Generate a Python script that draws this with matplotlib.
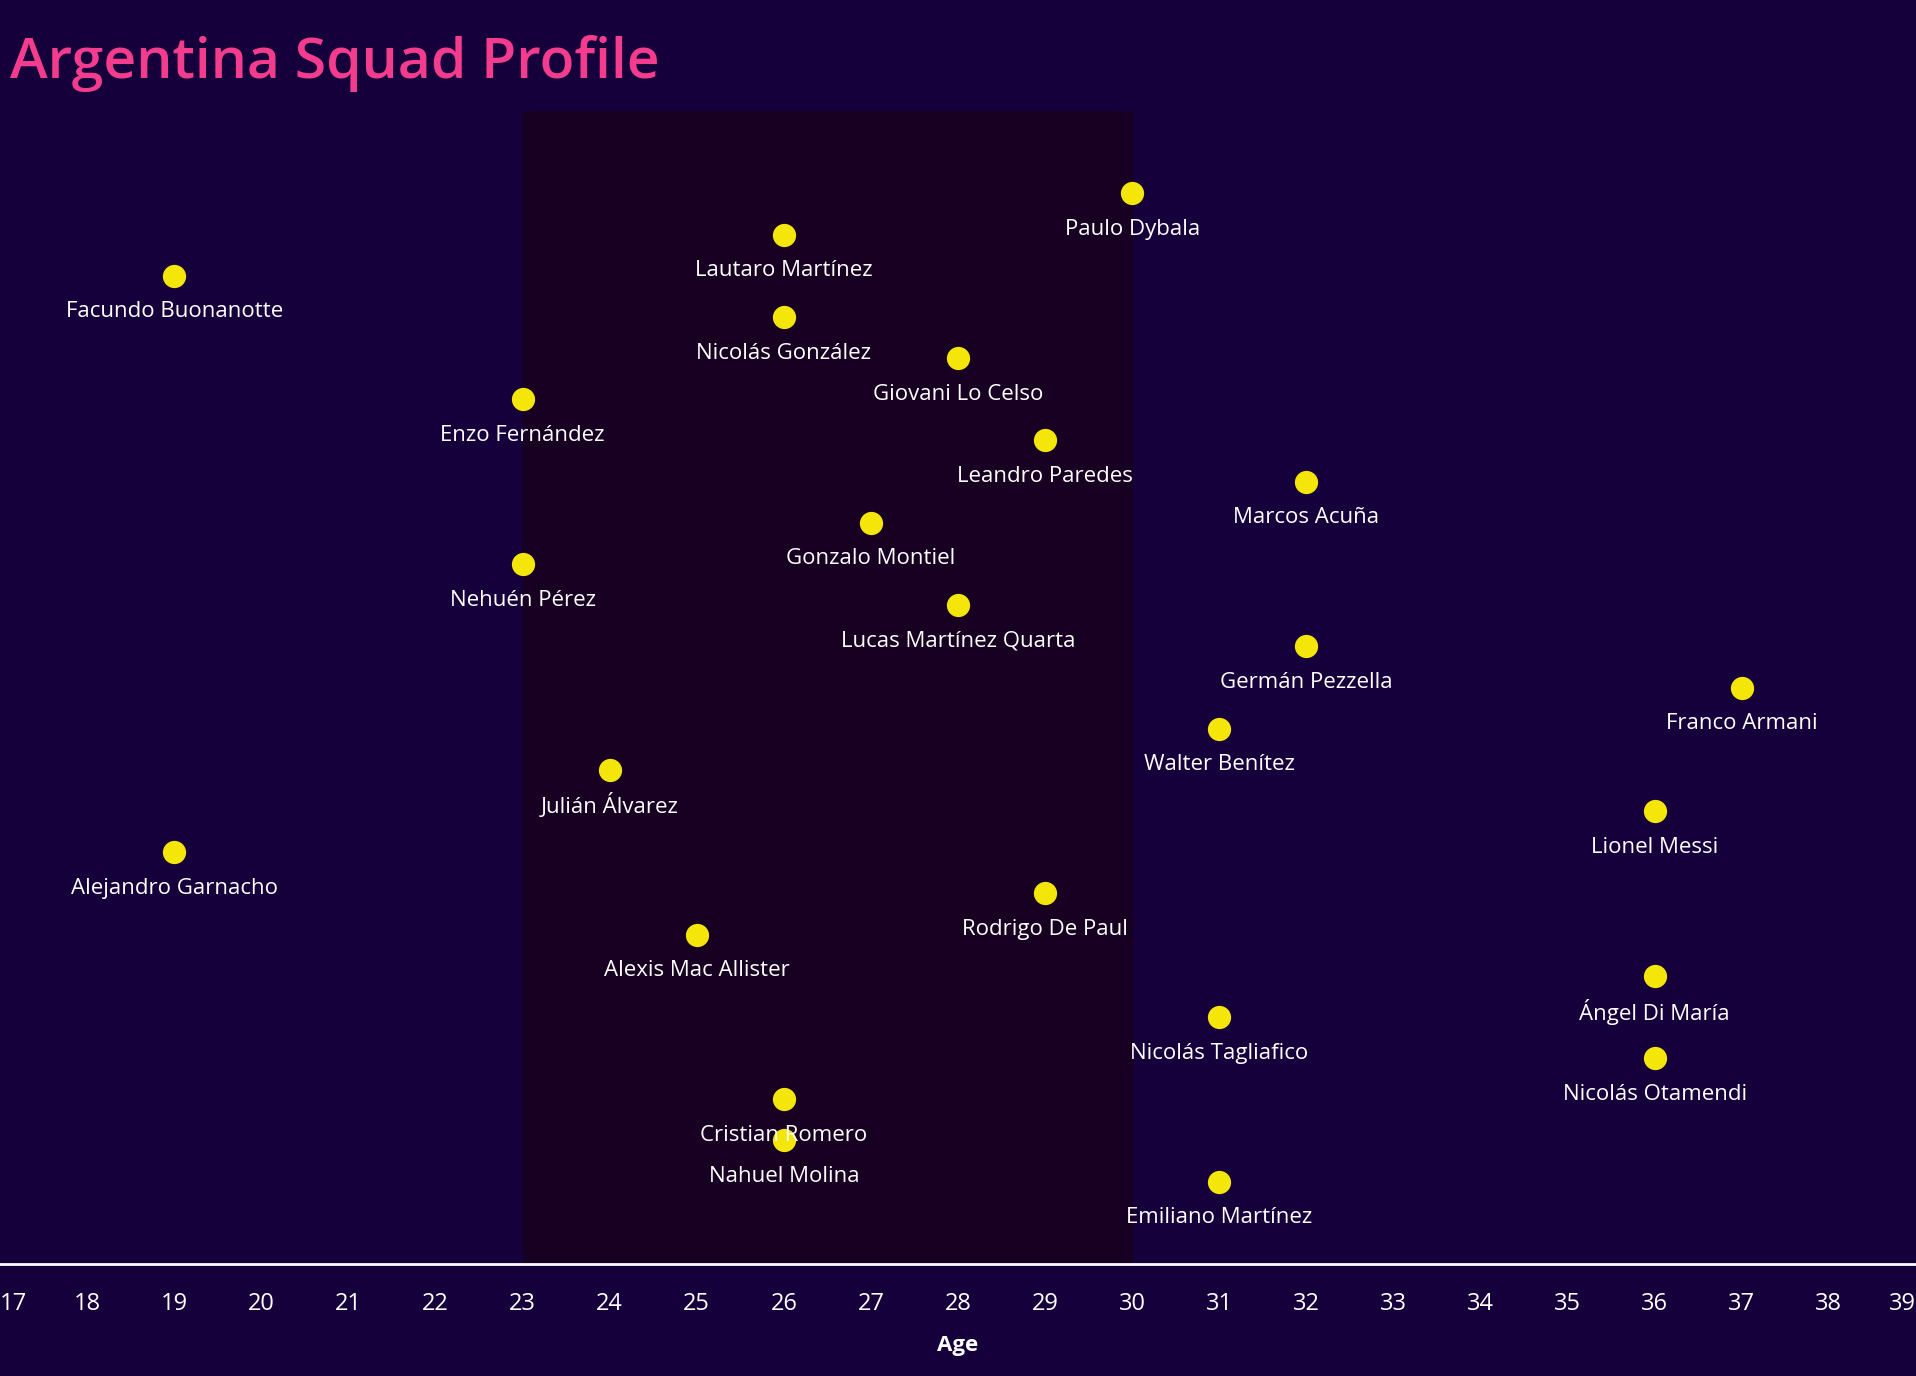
import matplotlib.pyplot as plt

# Squad data (top-to-bottom order as drawn)
players = [
    'Paulo Dybala', 'Lautaro Martínez', 'Facundo Buonanotte', 'Nicolás González',
    'Giovani Lo Celso', 'Enzo Fernández', 'Leandro Paredes', 'Marcos Acuña',
    'Gonzalo Montiel', 'Nehuén Pérez', 'Lucas Martínez Quarta', 'Germán Pezzella',
    'Franco Armani', 'Walter Benítez', 'Julián Álvarez', 'Lionel Messi',
    'Alejandro Garnacho', 'Rodrigo De Paul', 'Alexis Mac Allister', 'Ángel Di María',
    'Nicolás Tagliafico', 'Nicolás Otamendi', 'Cristian Romero', 'Nahuel Molina',
    'Emiliano Martínez',
]
ages = [30, 26, 19, 26, 28, 23, 29, 32, 27, 23, 28, 32, 37, 31, 24, 36,
        19, 29, 25, 36, 31, 36, 26, 26, 31]
rank = list(range(len(players)))

ticks = list(range(17, 40))
peak_start, peak_end = 23, 30

BG = '#16003b'
BAND = '#170022'
DOT = '#f5e60a'
PINK = '#f43c8e'

plt.rcParams['font.family'] = ['Open Sans', 'DejaVu Sans']

fig = plt.figure(figsize=(19.16, 13.76), dpi=100, facecolor=BG)
ax = fig.add_axes([0, 0.0814, 1, 0.8379], facecolor=BG)

# peak-age band
ax.axvspan(peak_start, peak_end, color=BAND, zorder=0)

ax.scatter(ages, rank, s=280, color=DOT, zorder=3, linewidths=0)
for name, a, r in zip(players, ages, rank):
    ax.annotate(name, (a, r), xytext=(0, -26), textcoords='offset points',
                ha='center', va='center', color='white', fontsize=16,
                fontweight='medium', zorder=4)

ax.set_xlim(17, 39)
ax.set_ylim(26, -2)
ax.set_yticks([])
ax.set_xticks(ticks)
ax.set_xticklabels([str(t) for t in ticks], color='white', fontsize=17)
ax.tick_params(axis='x', length=0, pad=20)
lbls = ax.get_xticklabels()
lbls[0].set_ha('left')
lbls[-1].set_ha('right')

for side in ['top', 'left', 'right']:
    ax.spines[side].set_visible(False)
ax.spines['bottom'].set_color('white')
ax.spines['bottom'].set_linewidth(2)

fig.text(0.5, 1 - 1346 / 1376, 'Age', ha='center', va='center',
         color='white', fontsize=16, fontweight='bold')
fig.text(0.005, 1 - 78 / 1376, 'Argentina Squad Profile', ha='left', va='baseline',
         color=PINK, fontsize=41, fontweight='semibold')

fig.savefig('out.png', dpi=100, facecolor=BG)
